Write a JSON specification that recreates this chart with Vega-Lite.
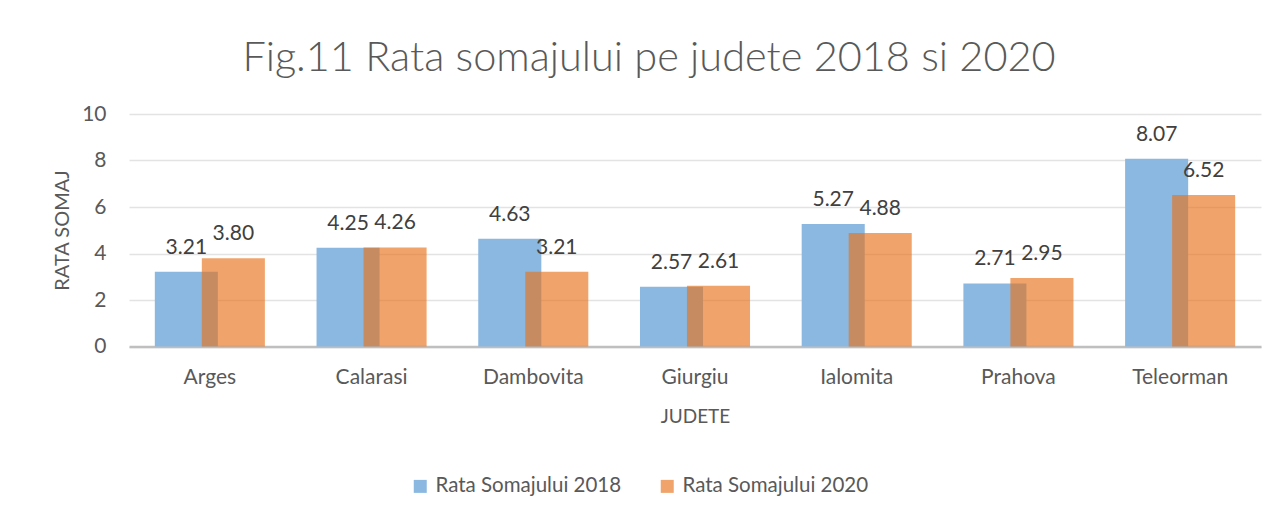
{
  "$schema": "https://vega.github.io/schema/vega-lite/v6.json",
  "autosize": {"type": "none"},
  "width": 1132,
  "height": 232.5,
  "padding": {"left": 129, "top": 114, "right": 17, "bottom": 168.5},
  "background": "white",
  "config": {
    "font": "Lato",
    "view": {"stroke": null},
    "axis": {"labelColor": "#595959", "titleColor": "#595959", "labelFont": "Lato", "titleFont": "Lato", "titleFontWeight": "normal"},
    "legend": {"labelColor": "#595959", "labelFont": "Lato"}
  },
  "title": {
    "text": "Fig.11 Rata somajului pe judete 2018 si 2020",
    "fontSize": 41.5,
    "font": "Lato",
    "fontWeight": 300,
    "color": "#595959",
    "anchor": "middle",
    "dx": -46,
    "baseline": "alphabetic",
    "offset": -9
  },
  "data": {
    "values": [
      {"judet": "Arges", "serie": "Rata Somajului  2018", "rata": 3.21},
      {"judet": "Calarasi", "serie": "Rata Somajului  2018", "rata": 4.25},
      {"judet": "Dambovita", "serie": "Rata Somajului  2018", "rata": 4.63},
      {"judet": "Giurgiu", "serie": "Rata Somajului  2018", "rata": 2.57},
      {"judet": "Ialomita", "serie": "Rata Somajului  2018", "rata": 5.27},
      {"judet": "Prahova", "serie": "Rata Somajului  2018", "rata": 2.71},
      {"judet": "Teleorman", "serie": "Rata Somajului  2018", "rata": 8.07},
      {"judet": "Arges", "serie": "Rata Somajului 2020", "rata": 3.80},
      {"judet": "Calarasi", "serie": "Rata Somajului 2020", "rata": 4.26},
      {"judet": "Dambovita", "serie": "Rata Somajului 2020", "rata": 3.21},
      {"judet": "Giurgiu", "serie": "Rata Somajului 2020", "rata": 2.61},
      {"judet": "Ialomita", "serie": "Rata Somajului 2020", "rata": 4.88},
      {"judet": "Prahova", "serie": "Rata Somajului 2020", "rata": 2.95},
      {"judet": "Teleorman", "serie": "Rata Somajului 2020", "rata": 6.52}
    ]
  },
  "encoding": {
    "x": {
      "field": "judet",
      "type": "nominal",
      "sort": null,
      "scale": {"paddingInner": 0, "paddingOuter": 0},
      "axis": {
        "title": "JUDETE",
        "titleFontSize": 19,
        "titlePadding": 20,
        "labelAngle": 0,
        "labelFontSize": 21,
        "labelPadding": 20,
        "ticks": false,
        "domainColor": "#bfbfbf",
        "domainWidth": 2.5,
        "grid": false
      }
    },
    "y": {
      "field": "rata",
      "type": "quantitative",
      "scale": {"domain": [0, 10]},
      "axis": {
        "title": "RATA SOMAJ",
        "titleFontSize": 20,
        "titleX": -61,
        "titleY": 116,
        "titleAngle": -90,
        "titleBaseline": "alphabetic",
        "titleAlign": "center",
        "values": [0, 2, 4, 6, 8, 10],
        "labelFontSize": 21,
        "labelPadding": 23,
        "ticks": false,
        "domain": false,
        "gridColor": "#e3e3e3",
        "gridWidth": 1.5
      }
    }
  },
  "layer": [
    {
      "transform": [{"filter": "datum.serie === 'Rata Somajului  2018'"}],
      "mark": {"type": "bar", "xOffset": -23.5, "width": {"band": 0.39}},
      "encoding": {
        "color": {
          "field": "serie",
          "type": "nominal",
          "scale": {"domain": ["Rata Somajului  2018", "Rata Somajului 2020"], "range": ["#8bb8e0", "rgba(232,115,29,0.65)"]},
          "legend": {
            "title": null,
            "orient": "none",
            "direction": "horizontal",
            "legendX": 281,
            "legendY": 362,
            "symbolType": "square",
            "symbolSize": 169,
            "symbolStrokeWidth": 0,
            "labelFontSize": 20.5,
            "labelLimit": 400,
            "labelOffset": 5,
            "columnPadding": 30
          }
        }
      }
    },
    {
      "transform": [{"filter": "datum.serie === 'Rata Somajului 2020'"}],
      "mark": {"type": "bar", "xOffset": 23.5, "width": {"band": 0.39}},
      "encoding": {
        "color": {"field": "serie", "type": "nominal"}
      }
    },
    {
      "transform": [{"filter": "datum.serie === 'Rata Somajului  2018'"}],
      "mark": {"type": "text", "xOffset": -23.5, "dy": -18, "baseline": "alphabetic", "fontSize": 21, "color": "#404040"},
      "encoding": {"text": {"field": "rata", "type": "quantitative", "format": ".2f"}}
    },
    {
      "transform": [{"filter": "datum.serie === 'Rata Somajului 2020'"}],
      "mark": {"type": "text", "xOffset": 23.5, "dy": -18, "baseline": "alphabetic", "fontSize": 21, "color": "#404040"},
      "encoding": {"text": {"field": "rata", "type": "quantitative", "format": ".2f"}}
    }
  ]
}
